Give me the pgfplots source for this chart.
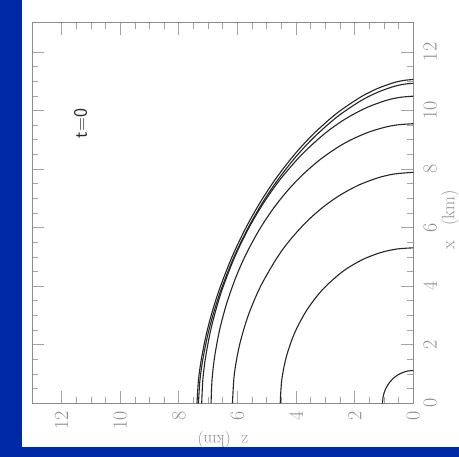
\documentclass[border=0pt]{standalone}
\usepackage{pgfplots}
\pgfplotsset{compat=1.18}
\definecolor{slideblue}{RGB}{0,41,168}
\definecolor{framegray}{RGB}{140,140,140}
\definecolor{labelgray}{RGB}{145,145,145}

% density contours, columns: z (km), x (km)
\pgfplotstableread{
z x
1.05 0
1.034 0.194
0.987 0.383
0.909 0.56
0.804 0.720
0.675 0.858
0.525 0.970
0.359 1.052
0.182 1.103
0 1.12
}\cA
\pgfplotstableread{
z x
4.54 0
4.488 0.8
4.329 1.6
4.050 2.4
3.623 3.2
3.081 3.9
2.410 4.5
1.750 4.9
1.107 5.15
0.557 5.27
0 5.31
}\cB
\pgfplotstableread{
z x
6.17 0
6.106 1.0
5.926 2.0
5.632 3.0
5.209 4.0
4.631 5.0
4.187 5.6
3.643 6.2
3.080 6.7
2.514 7.1
1.870 7.45
1.211 7.7
0.662 7.83
0 7.89
}\cC
\pgfplotstableread{
z x
6.90 0
6.867 0.8
6.777 1.6
6.610 2.5
6.371 3.4
6.056 4.3
5.703 5.1
5.259 5.92
4.813 6.6
4.362 7.18
3.835 7.75
3.187 8.32
2.570 8.75
2.103 9.01
1.553 9.25
1.005 9.42
0.542 9.51
0 9.55
}\cD
\pgfplotstableread{
z x
7.22 0
7.181 0.8
7.098 1.5
6.955 2.3
6.788 3.0
6.517 3.9
6.092 5.0
5.606 6.0
5.071 6.9
4.515 7.68
3.802 8.5
3.037 9.2
2.339 9.7
1.592 10.1
0.907 10.35
0.453 10.45
0 10.49
}\cE
\pgfplotstableread{
z x
7.33 0
7.28 0.791
7.184 1.482
7.027 2.273
6.850 2.965
6.569 3.854
6.143 4.941
5.671 5.929
5.166 6.819
4.640 7.609
4.024 8.400
3.384 9.091
2.600 9.783
1.801 10.327
1.216 10.623
0.664 10.821
0.309 10.900
0 10.930
}\cF
\pgfplotstableread{
z x
7.38 0
7.33 0.8
7.233 1.5
7.075 2.3
6.897 3.0
6.614 3.9
6.185 5.0
5.71 6.0
5.201 6.9
4.672 7.7
4.052 8.5
3.407 9.2
2.618 9.9
1.813 10.45
1.224 10.75
0.669 10.95
0.311 11.03
0 11.06
}\cG

\tikzset{contour/.style={color=black!85, line width=1.1pt, smooth, mark=none}}

\begin{document}
\begin{tikzpicture}[x=1pt,y=1pt]
\useasboundingbox (0,0) rectangle (459,457);
\fill[slideblue] (0,0) rectangle (459,457);
\fill[white] (22,10) rectangle (459,457);
\begin{axis}[
  at={(32.3pt,53.7pt)}, anchor=south west,
  scale only axis, width=381pt, height=380.6pt,
  xmin=0, xmax=13, ymin=0, ymax=13, x dir=reverse,
  xtick={0,2,...,12}, ytick={0,2,...,12}, minor tick num=3,
  tick align=inside, major tick length=12pt, minor tick length=6pt,
  axis line style={framegray, line width=0.9pt},
  every tick/.style={framegray!80, line width=0.7pt},
  yticklabel pos=right,
  /pgf/number format/assume math mode=true,
  tick label style={text=labelgray, font=\fontsize{20}{24}\selectfont, inner sep=0pt},
  xticklabel style={rotate=90, anchor=east},
  yticklabel style={rotate=90, anchor=north},
  xticklabel shift=8pt, yticklabel shift=10pt,
  xlabel={z\hspace{0.6em}(km)}, ylabel={x\hspace{0.8em}(km)},
  every axis x label/.style={at={(axis description cs:0.5,-0.0965)}, rotate=180, anchor=center, text=labelgray, font=\fontsize{17}{20}\selectfont},
  every axis y label/.style={at={(axis description cs:1.096,0.482)}, rotate=90, anchor=center, text=labelgray, font=\fontsize{18}{20}\selectfont},
]
\addplot[contour] table[x=z, y=x] {\cA};
\addplot[contour] table[x=z, y=x] {\cB};
\addplot[contour] table[x=z, y=x] {\cC};
\addplot[contour] table[x=z, y=x] {\cD};
\addplot[contour] table[x=z, y=x] {\cE};
\addplot[contour] table[x=z, y=x] {\cF};
\addplot[contour] table[x=z, y=x] {\cG};
\node[rotate=90, font=\sffamily\fontsize{19}{22}\selectfont, text=black!85] at (axis cs:11.35,9.55) {t=0};
\end{axis}
\end{tikzpicture}
\end{document}
